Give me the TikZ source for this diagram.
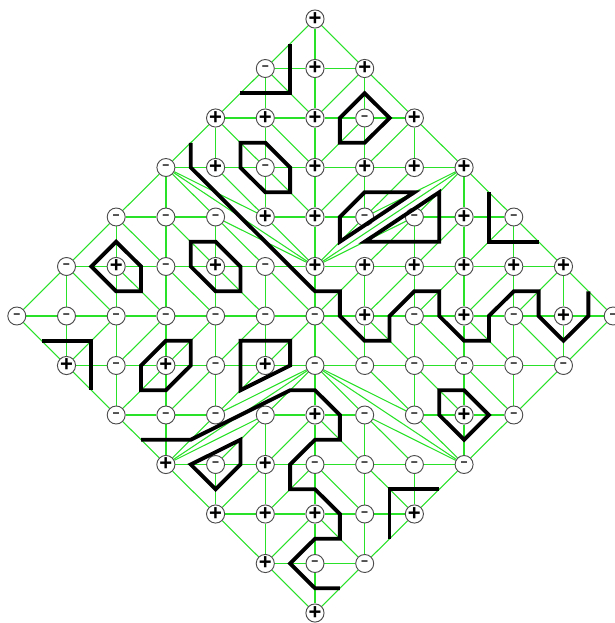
\documentclass[tikz,border=0pt]{standalone}
\usepackage{fontspec}
\setmainfont{Liberation Sans}
\usetikzlibrary{backgrounds}
\definecolor{edgegreen}{RGB}{40,225,40}
\tikzset{
  vertex/.style={circle,draw=black!70,line width=0.7pt,fill=white,minimum size=13.5pt,inner sep=0pt},
  pluslabel/.style={vertex,font=\fontsize{16.5}{16.5}\selectfont\bfseries},
  minuslabel/.style={vertex,font=\fontsize{9}{9}\selectfont\bfseries},
  meshaxis/.style={edgegreen,line width=1pt},
  mesh/.style={edgegreen,line width=0.8pt},
  contour/.style={black,line width=2.9pt,line join=miter,line cap=butt}
}
\begin{document}
\begin{tikzpicture}[x=37.275pt,y=-37.125pt]
\useasboundingbox (-6.338,-6.384) rectangle (6.036,6.202);
\clip (-6.338,-6.384) rectangle (6.036,6.202);
% vertices
\foreach \i/\j in {0/-6,0/-5,1/-5,-2/-4,-1/-4,0/-4,2/-4,-2/-3,0/-3,1/-3,2/-3,3/-3,
  -1/-2,0/-2,3/-2,-4/-1,-2/-1,0/-1,1/-1,2/-1,3/-1,4/-1,5/-1,1/0,3/0,5/0,
  -5/1,-3/1,-1/1,0/2,3/2,-3/3,-1/3,-2/4,-1/4,0/4,2/4,-1/5,0/6}
  \node[pluslabel] (n\i_\j) at (\i,\j) {+};
\foreach \i/\j in {-1/-5,1/-4,-3/-3,-1/-3,-4/-2,-3/-2,-2/-2,1/-2,2/-2,4/-2,-5/-1,-3/-1,-1/-1,
  -6/0,-5/0,-4/0,-3/0,-2/0,-1/0,0/0,2/0,4/0,6/0,
  -4/1,-2/1,0/1,1/1,2/1,3/1,4/1,5/1,-4/2,-3/2,-2/2,-1/2,1/2,2/2,4/2,
  -2/3,0/3,1/3,2/3,3/3,1/4,0/5,1/5}
  \node[minuslabel] (n\i_\j) at (\i,\j) {−};
% mesh
\begin{scope}[on background layer]
  \foreach \j in {-6,...,6}{
    \foreach \i in {-6,...,6}{
      \pgfmathtruncatemacro\inside{abs(\i)+abs(\j)<=6?1:0}
      \ifnum\inside=1
        \pgfmathtruncatemacro\ni{\i+1}
        \pgfmathtruncatemacro\nj{\j+1}
        \pgfmathtruncatemacro\hok{(abs(\ni)+abs(\j)<=6)&&!(abs(\j)==2&&(\i==-2||\i==1))?1:0}
        \pgfmathtruncatemacro\vok{(abs(\i)+abs(\nj)<=6)&&!((abs(\i)==2&&(\j==-3||\j==2))||(abs(\i)==1&&(\j==-2||\j==1)))?1:0}
        \ifnum\hok=1 \draw[meshaxis] (n\i_\j) -- (n\ni_\j);\fi
        \ifnum\vok=1 \draw[meshaxis] (n\i_\j) -- (n\i_\nj);\fi
      \fi
    }
  }
  \foreach \j in {-6,...,5}{
    \foreach \i in {-6,...,5}{
      \pgfmathtruncatemacro\ni{\i+1}
      \pgfmathtruncatemacro\nj{\j+1}
      \pgfmathtruncatemacro\far{max(abs(\i),abs(\ni))+max(abs(\j),abs(\nj))}
      \pgfmathtruncatemacro\same{((\i<0&&\j<0)||(\i>=0&&\j>=0))?1:0}
      \ifnum\far<7
        \ifnum\same=1 \draw[mesh] (n\i_\j) -- (n\ni_\nj);
        \else \draw[mesh] (n\ni_\j) -- (n\i_\nj);\fi
      \else\ifnum\far=7
        \ifnum\same=1 \draw[mesh] (n\ni_\j) -- (n\i_\nj);
        \else \draw[mesh] (n\i_\j) -- (n\ni_\nj);\fi
      \fi\fi
    }
  }
  \foreach \sx in {-1,1}{
    \foreach \sy in {-1,1}{
      \pgfmathtruncatemacro\ax{3*\sx}
      \pgfmathtruncatemacro\ay{3*\sy}
      \pgfmathtruncatemacro\px{2*\sx}
      \pgfmathtruncatemacro\py{2*\sy}
      \draw[mesh] (n\ax_\ay) -- (n\sx_\py);
      \draw[mesh] (n\ax_\ay) -- (n0_\sy);
      \draw[mesh] (n0_\sy) -- (n\px_\py);
    }
  }
\end{scope}
% contours
\draw[contour] (-1.5,-4.5) -- (-0.5,-4.5) -- (-0.5,-5.5);
\draw[contour] (1,-4.5) -- (1.5,-4) -- (1,-3.5) -- (0.5,-3.5) -- (0.5,-4) -- cycle;
\draw[contour] (-1.5,-3.5) -- (-1,-3.5) -- (-0.5,-3) -- (-0.5,-2.5) -- (-1,-2.5) -- (-1.5,-3) -- cycle;
\draw[contour] (-2.5,-3.5) -- (-2.5,-3) -- (0,-0.5) -- (0.5,-0.5) -- (0.5,0) -- (1,0.5) -- (1.5,0.5) -- (1.5,0)
  -- (2,-0.5) -- (2.5,-0.5) -- (2.5,0) -- (3,0.5) -- (3.5,0.5) -- (3.5,0) -- (4,-0.5) -- (4.5,-0.5) -- (4.5,0)
  -- (5,0.5) -- (5.5,0) -- (5.5,-0.5);
\draw[contour] (3.5,-2.5) -- (3.5,-1.5) -- (4.5,-1.5);
\draw[contour] (1,-2.5) -- (2,-2.5) -- (0.5,-1.5) -- (0.5,-2) -- cycle;
\draw[contour] (2.5,-2.5) -- (2.5,-1.5) -- (1,-1.5) -- cycle;
\draw[contour] (-4,-1.5) -- (-3.5,-1) -- (-3.5,-0.5) -- (-4,-0.5) -- (-4.5,-1) -- cycle;
\draw[contour] (-2.5,-1.5) -- (-2,-1.5) -- (-1.5,-1) -- (-1.5,-0.5) -- (-2,-0.5) -- (-2.5,-1) -- cycle;
\draw[contour] (-5.5,0.5) -- (-4.5,0.5) -- (-4.5,1.5);
\draw[contour] (-3,0.5) -- (-2.5,0.5) -- (-2.5,1) -- (-3,1.5) -- (-3.5,1.5) -- (-3.5,1) -- cycle;
\draw[contour] (-1.5,0.5) -- (-0.5,0.5) -- (-0.5,1) -- (-1.5,1.5) -- cycle;
\draw[contour] (-3.5,2.5) -- (-2.5,2.5) -- (-0.5,1.5) -- (0,1.5) -- (0.5,2) -- (0.5,2.5) -- (0,2.5) -- (-0.5,3)
  -- (-0.5,3.5) -- (0,3.5) -- (0.5,4) -- (0.5,4.5) -- (0,4.5) -- (-0.5,5) -- (0,5.5) -- (0.5,5.5);
\draw[contour] (-1.5,2.5) -- (-1.5,3) -- (-2,3.5) -- (-2.5,3) -- cycle;
\draw[contour] (2.5,1.5) -- (3,1.5) -- (3.5,2) -- (3,2.5) -- (2.5,2) -- cycle;
\draw[contour] (2.5,3.5) -- (1.5,3.5) -- (1.5,4.5);
\end{tikzpicture}
\end{document}
